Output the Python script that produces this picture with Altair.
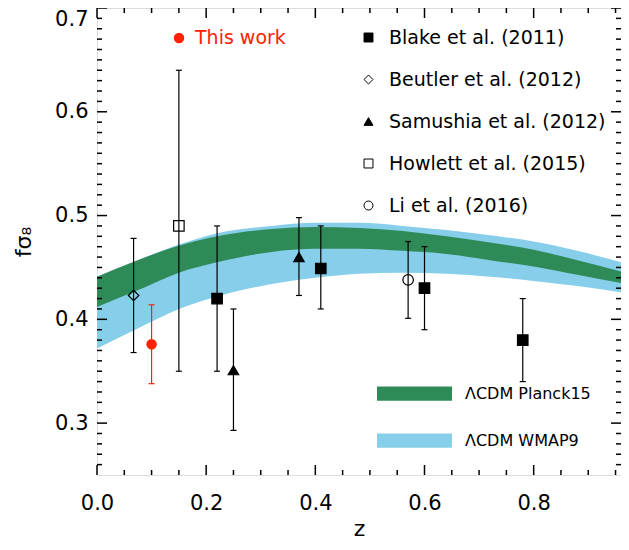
import altair as alt
import pandas as pd

FONT = "DejaVu Sans"

# ---------------- data ----------------
survey_order = ["Blake et al. (2011)", "Beutler et al. (2012)", "Samushia et al. (2012)",
                "Howlett et al. (2015)", "Li et al. (2016)", "This work"]
survey_shapes = ["square", "diamond", "triangle-up", "square", "circle", "circle"]
survey_fills = ["black", "transparent", "black", "transparent", "transparent", "#ff2200"]
survey_strokes = ["black", "black", "black", "black", "black", "#ff2200"]
red = "#ff2200"

blake_z = [0.22, 0.41, 0.60, 0.78]
blake_f = [0.420, 0.449, 0.430, 0.380]
blake_lo = [0.350, 0.410, 0.390, 0.340]
blake_hi = [0.490, 0.490, 0.470, 0.420]

beutler_z = [0.067]
beutler_f = [0.423]
beutler_lo = [0.368]
beutler_hi = [0.478]

samushia_z = [0.25, 0.37]
samushia_f = [0.351, 0.460]
samushia_lo = [0.293, 0.423]
samushia_hi = [0.410, 0.498]

howlett_z = [0.15]
howlett_f = [0.490]
howlett_lo = [0.350]
howlett_hi = [0.640]

li_z = [0.57]
li_f = [0.438]
li_lo = [0.401]
li_hi = [0.475]

this_z = [0.10]
this_f = [0.376]
this_lo = [0.338]
this_hi = [0.414]

band_z = [0.0, 0.07, 0.15, 0.22, 0.32, 0.40, 0.48, 0.56, 0.64, 0.72, 0.80, 0.88, 0.96]
planck_lo = [0.412, 0.427, 0.445, 0.455, 0.465, 0.468, 0.468, 0.466, 0.463, 0.457, 0.451, 0.443, 0.435]
planck_hi = [0.441, 0.456, 0.471, 0.480, 0.487, 0.489, 0.488, 0.485, 0.480, 0.474, 0.467, 0.457, 0.446]
wmap_lo = [0.372, 0.390, 0.410, 0.422, 0.434, 0.440, 0.444, 0.445, 0.444, 0.441, 0.437, 0.432, 0.426]
wmap_hi = [0.441, 0.456, 0.472, 0.483, 0.490, 0.493, 0.493, 0.490, 0.486, 0.481, 0.475, 0.466, 0.455]
model_names = ["\u039bCDM Planck15", "\u039bCDM WMAP9"]
model_colors = ["#2e8b57", "#87ceeb"]

x_major = [0.0, 0.2, 0.4, 0.6, 0.8]
x_minor = [0.05, 0.1, 0.15, 0.25, 0.3, 0.35, 0.45, 0.5, 0.55, 0.65, 0.7, 0.75, 0.85, 0.9, 0.95]
y_major = [0.3, 0.4, 0.5, 0.6, 0.7]
y_minor = [round(0.26 + 0.01 * i, 2) for i in range(44) if round(0.26 + 0.01 * i, 2) not in y_major]

# ---------------- tables ----------------
rows = []
for name, zs, fs, los, his in [
    (survey_order[0], blake_z, blake_f, blake_lo, blake_hi),
    (survey_order[1], beutler_z, beutler_f, beutler_lo, beutler_hi),
    (survey_order[2], samushia_z, samushia_f, samushia_lo, samushia_hi),
    (survey_order[3], howlett_z, howlett_f, howlett_lo, howlett_hi),
    (survey_order[4], li_z, li_f, li_lo, li_hi),
    (survey_order[5], this_z, this_f, this_lo, this_hi),
]:
    for z, f, lo, hi in zip(zs, fs, los, his):
        rows.append({"z": z, "f": f, "lo": lo, "hi": hi, "survey": name})
pts_df = pd.DataFrame(rows)

band_df = pd.DataFrame({
    "z": band_z + band_z,
    "lo": planck_lo + wmap_lo,
    "hi": planck_hi + wmap_hi,
    "model": [model_names[0]] * len(band_z) + [model_names[1]] * len(band_z),
})

W, H = 524, 467
xscale = alt.Scale(domain=[0.0, 0.96], nice=False, zero=False)
yscale = alt.Scale(domain=[0.25, 0.70], nice=False, zero=False)

xaxis = alt.Axis(values=x_major, format=".1f", title="z", labelFontSize=21, titleFontSize=22,
                 labelPadding=17, titlePadding=5, ticks=False, tickSize=0, domain=False,
                 grid=False, labelFont=FONT, titleFont=FONT, labelColor="black",
                 titleColor="black", titleFontWeight="normal", labelFlush=False)
yaxis = alt.Axis(values=y_major, format=".1f", title="f\u03c3\u2088", labelFontSize=21,
                 titleFontSize=22, labelPadding=9, titlePadding=19, ticks=False, tickSize=0,
                 domain=False, grid=False, labelFont=FONT, titleFont=FONT, labelColor="black",
                 titleColor="black", titleFontWeight="normal", labelFlush=True)

X = lambda f: alt.X(f, scale=xscale, axis=xaxis)
Y = lambda f: alt.Y(f, scale=yscale, axis=yaxis)

cscale = alt.Scale(domain=model_names, range=model_colors)
cleg = alt.Legend(title=None, orient="none", legendX=280, legendY=348,
                  symbolType="M-1,-0.19L1,-0.19L1,0.19L-1,0.19Z", symbolSize=5625,
                  symbolStrokeWidth=0, symbolOpacity=1, labelFontSize=16, labelFont=FONT,
                  labelColor="black", rowPadding=1, labelOffset=13, padding=0, labelLimit=300)

wmap = alt.Chart(band_df).transform_filter(alt.datum.model == model_names[1]).mark_area(
    interpolate="monotone", opacity=1).encode(
    x=X("z:Q"), y=Y("lo:Q"), y2="hi:Q",
    color=alt.Color("model:N", scale=cscale, legend=cleg),
)
planck = alt.Chart(band_df).transform_filter(alt.datum.model == model_names[0]).mark_area(
    interpolate="monotone", opacity=1).encode(
    x=X("z:Q"), y=Y("lo:Q"), y2="hi:Q",
    color=alt.Color("model:N", scale=cscale, legend=cleg),
)

# inward ticks built from tick value lists through the scales
def xticks(vals, length):
    d = pd.DataFrame({"z": vals})
    bot = alt.Chart(d).mark_rule(color="black", strokeWidth=1.5).encode(
        x=X("z:Q"), y=alt.value(H), y2=alt.value(H - length))
    top = alt.Chart(d).mark_rule(color="black", strokeWidth=1.5).encode(
        x=X("z:Q"), y=alt.value(0), y2=alt.value(length))
    return [bot, top]

def yticks(vals, length):
    d = pd.DataFrame({"lo": vals})
    left = alt.Chart(d).mark_rule(color="black", strokeWidth=1.5).encode(
        y=Y("lo:Q"), x=alt.value(0), x2=alt.value(length))
    right = alt.Chart(d).mark_rule(color="black", strokeWidth=1.5).encode(
        y=Y("lo:Q"), x=alt.value(W), x2=alt.value(W - length))
    return [left, right]

tick_layers = xticks(x_major, 10) + xticks(x_minor, 5) + yticks(y_major, 10) + yticks(y_minor, 5)

def errbars(pred, col):
    base = alt.Chart(pts_df).transform_filter(pred)
    bar = base.mark_rule(strokeWidth=1.2, color=col).encode(
        x=X("z:Q"), y=Y("lo:Q"), y2="hi:Q")
    lo = base.mark_rule(strokeWidth=1.2, color=col, xOffset=-3, x2Offset=3).encode(
        x=X("z:Q"), x2="z:Q", y=Y("lo:Q"))
    hi = base.mark_rule(strokeWidth=1.2, color=col, xOffset=-3, x2Offset=3).encode(
        x=X("z:Q"), x2="z:Q", y=Y("hi:Q"))
    return [bar, lo, hi]

err_layers = errbars(alt.datum.survey != "This work", "black") + \
    errbars(alt.datum.survey == "This work", red)

sleg = alt.Legend(title=None, orient="none", legendX=262, legendY=20,
                  values=survey_order[:5], symbolSize=80,
                  symbolStrokeWidth=1, labelFontSize=19, labelFont=FONT, labelColor="black",
                  rowPadding=22, labelOffset=11, padding=0, labelLimit=300)

points = alt.Chart(pts_df).transform_filter(alt.datum.survey != "This work").mark_point(
    filled=True, size=110, strokeWidth=1.2, opacity=1).encode(
    x=X("z:Q"), y=Y("f:Q"),
    shape=alt.Shape("survey:N", scale=alt.Scale(domain=survey_order, range=survey_shapes),
                    legend=sleg),
    fill=alt.Fill("survey:N", scale=alt.Scale(domain=survey_order, range=survey_fills),
                  legend=sleg),
    stroke=alt.Stroke("survey:N", scale=alt.Scale(domain=survey_order, range=survey_strokes),
                      legend=sleg),
)
this_pt = alt.Chart(pts_df).transform_filter(alt.datum.survey == "This work").mark_point(
    filled=True, size=110, shape="circle", color=red, opacity=1).encode(
    x=X("z:Q"), y=Y("f:Q"))

note_df = pd.DataFrame({"label": ["This work"]})
note_pt = alt.Chart(note_df).mark_point(filled=True, size=110, color=red, shape="circle",
                                        opacity=1).encode(
    x=alt.value(82), y=alt.value(30))
note_tx = alt.Chart(note_df).mark_text(align="left", baseline="middle", font=FONT, fontSize=19,
                                       color=red).encode(
    x=alt.value(98), y=alt.value(30), text="label:N")

chart = alt.layer(wmap, planck, *tick_layers, *err_layers, points, this_pt,
                  note_pt, note_tx).properties(
    width=W, height=H,
    autosize=alt.AutoSizeParams(type="none"),
    padding={"left": 89, "top": 0, "right": 0, "bottom": 67},
).configure_view(stroke="black", strokeWidth=2.5).configure(background="white")

chart.save("out.html", embed_options={"renderer": "svg", "actions": False})
